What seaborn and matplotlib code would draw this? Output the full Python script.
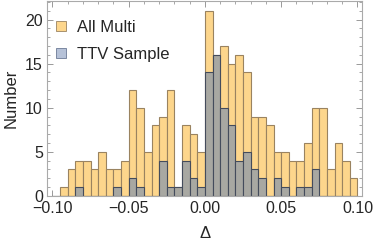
import numpy as np
import pandas as pd
import matplotlib
matplotlib.use("Agg")
import matplotlib.pyplot as plt
from matplotlib.lines import Line2D
from matplotlib.ticker import MultipleLocator
import seaborn as sns

# bin starts (width 0.005) and counts
bin_left = [round(-0.100 + 0.005 * i, 3) for i in range(40)]
all_multi = [0, 1, 3, 4, 4, 3, 5, 3, 3, 4, 12, 10, 5, 8, 9, 12, 1, 8, 7, 5,
             21, 16, 17, 15, 16, 14, 9, 9, 8, 5, 5, 4, 4, 6, 10, 10, 3, 6, 4, 2]
ttv_sample = [0, 0, 0, 1, 0, 0, 0, 0, 1, 0, 2, 1, 0, 0, 4, 1, 1, 4, 2, 1,
              14, 16, 10, 8, 4, 5, 3, 2, 0, 2, 1, 0, 1, 1, 3, 0, 0, 0, 0, 0]
labels = ["All Multi", "TTV Sample"]

width = 0.005
edges = [round(b, 3) for b in bin_left] + [round(bin_left[-1] + width, 3)]
df = pd.DataFrame({
    "x": np.array(bin_left) + width / 2,
    "all": all_multi,
    "ttv": ttv_sample,
})

sns.set_style("ticks")
plt.rcParams["font.family"] = ["Liberation Sans", "DejaVu Sans"]

fig = plt.figure(figsize=(3.74, 2.44), dpi=100)
ax = fig.add_axes([0.126, 0.197, 0.842, 0.799])

orange = "#FDD68C"
gray = "#A8A8A2"
sns.histplot(data=df, x="x", weights="all", bins=edges, color=orange,
             alpha=1, edgecolor="#9A8360", linewidth=0.8, ax=ax)
sns.histplot(data=df, x="x", weights="ttv", bins=edges, color=gray,
             alpha=1, edgecolor="#444C5C", linewidth=0.8, ax=ax)

ax.set_xlim(-0.1035, 0.103)
ax.set_ylim(0, 22.1)
ax.xaxis.set_minor_locator(MultipleLocator(0.01))
ax.yaxis.set_major_locator(MultipleLocator(5))
ax.yaxis.set_minor_locator(MultipleLocator(1))
ax.set_xticks([-0.1, -0.05, 0.0, 0.05, 0.1])
ax.set_xticklabels(["\u22120.10", "\u22120.05", "0.00", "0.05", "0.10"])
ax.tick_params(which="both", direction="in", top=True, right=True,
               color="#999999", labelsize=11.5)
ax.tick_params(axis="x", pad=4)
ax.tick_params(axis="y", pad=3)
ax.tick_params(which="major", length=4, width=0.7)
ax.tick_params(which="minor", length=2, width=0.6)
for s in ax.spines.values():
    s.set_color("#AAAAAA")
    s.set_linewidth(0.8)

ax.set_xlabel("\u0394", fontsize=12, labelpad=7)
ax.set_ylabel("Number", fontsize=12, labelpad=5)

handles = [
    Line2D([], [], marker="s", linestyle="none", markersize=7.5,
           markerfacecolor=orange, markeredgecolor="#9A8360", markeredgewidth=0.6),
    Line2D([], [], marker="s", linestyle="none", markersize=7.5,
           markerfacecolor="#B6C2D8", markeredgecolor="#6B7A95", markeredgewidth=0.6),
]
ax.legend(handles, labels, loc="upper left", frameon=False, fontsize=12,
          handletextpad=0.4, borderaxespad=0.0, labelspacing=0.7,
          handlelength=1.2, bbox_to_anchor=(-0.01, 0.935))

fig.savefig("out.png", dpi=100)
